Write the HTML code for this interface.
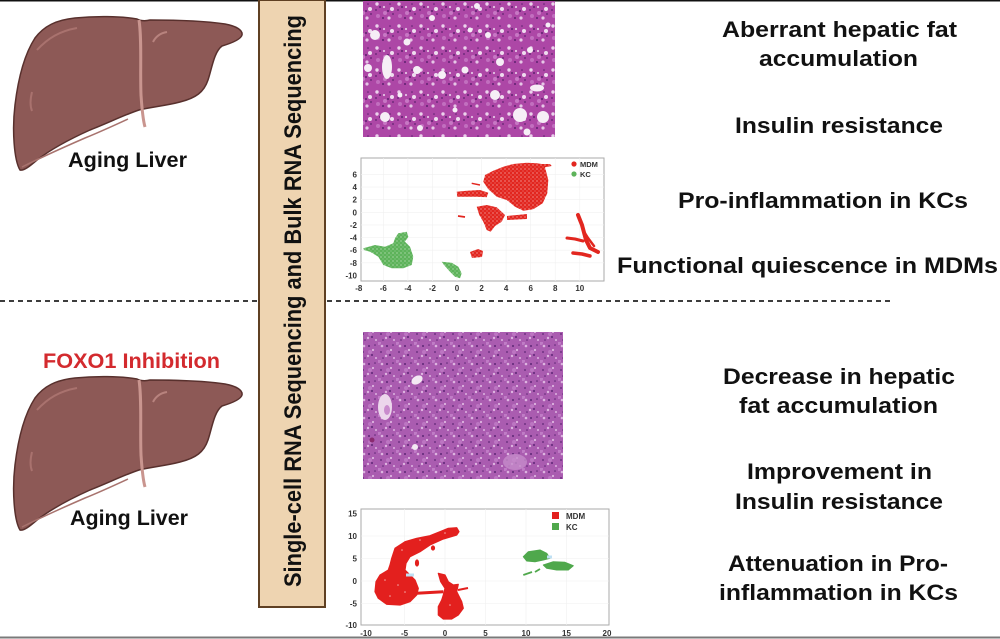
<!DOCTYPE html>
<html>
<head>
<meta charset="utf-8">
<style>
html,body{margin:0;padding:0;background:#fff;}
svg{display:block;}
text{font-family:"Liberation Sans",Arial,sans-serif;font-weight:bold;}
</style>
</head>
<body>
<svg width="1000" height="639" viewBox="0 0 1000 639" xmlns="http://www.w3.org/2000/svg">
<defs>
  <pattern id="histA" patternUnits="userSpaceOnUse" width="22" height="22">
    <rect width="22" height="22" fill="#ad47a6"/>
    <circle cx="11" cy="13" r="2" fill="#c778c4"/>
    <circle cx="4" cy="16" r="2" fill="#c26fbf"/>
    <circle cx="3" cy="4" r="1.7" fill="#ecd2ec"/>
    <circle cx="18" cy="9" r="2" fill="#efdcef"/>
    <circle cx="15" cy="18" r="1.6" fill="#e6c6e6"/>
    <circle cx="10" cy="7" r="1.1" fill="#e4c2e4"/>
    <circle cx="6" cy="7" r="1" fill="#5e2270"/>
    <circle cx="14" cy="11" r="1" fill="#5e2270"/>
    <circle cx="9" cy="18" r="1" fill="#5e2270"/>
    <circle cx="19" cy="14" r="0.9" fill="#5e2270"/>
    <circle cx="2" cy="10" r="0.9" fill="#5e2270"/>
    <circle cx="16" cy="4" r="0.8" fill="#5e2270"/>
  </pattern>
  <pattern id="histB" patternUnits="userSpaceOnUse" width="18" height="18">
    <rect width="18" height="18" fill="#aa5cb0"/>
    <circle cx="1" cy="1" r="2" fill="#c07cc6"/>
    <circle cx="10" cy="10" r="2" fill="#bc76c2"/>
    <circle cx="4" cy="4" r="1.3" fill="#ddb4e0"/>
    <circle cx="13" cy="8" r="1.1" fill="#ddb4e0"/>
    <circle cx="8" cy="14" r="1.2" fill="#ddb4e0"/>
    <circle cx="16" cy="16" r="1" fill="#ddb4e0"/>
    <circle cx="9" cy="4" r="1" fill="#5e2776"/>
    <circle cx="3" cy="10" r="0.9" fill="#5e2776"/>
    <circle cx="15" cy="3" r="0.8" fill="#5e2776"/>
    <circle cx="12" cy="13" r="1" fill="#5e2776"/>
    <circle cx="5" cy="16" r="0.8" fill="#5e2776"/>
  </pattern>
  <pattern id="rdots" patternUnits="userSpaceOnUse" width="4" height="4">
    <rect width="4" height="4" fill="#e2261f"/>
    <circle cx="1" cy="1" r="0.6" fill="#fff" opacity="0.75"/>
    <circle cx="3" cy="3" r="0.5" fill="#fff" opacity="0.6"/>
  </pattern>
  <pattern id="gdots" patternUnits="userSpaceOnUse" width="4" height="4">
    <rect width="4" height="4" fill="#5db35a"/>
    <circle cx="1" cy="1" r="0.6" fill="#fff" opacity="0.7"/>
    <circle cx="3" cy="3" r="0.5" fill="#fff" opacity="0.5"/>
  </pattern>
</defs>

<rect width="1000" height="639" fill="#fff"/>

<!-- borders -->
<line x1="0" y1="0.7" x2="1000" y2="0.7" stroke="#111" stroke-width="1.5"/>
<line x1="0" y1="637.5" x2="1000" y2="637.5" stroke="#7a7a7a" stroke-width="2"/>

<!-- dashed separators -->
<line x1="0" y1="301" x2="258" y2="301" stroke="#222" stroke-width="1.8" stroke-dasharray="5,4"/>
<line x1="327" y1="301" x2="890" y2="301" stroke="#222" stroke-width="1.8" stroke-dasharray="5,4"/>

<!-- banner -->
<rect x="259" y="0" width="66" height="607" fill="#eed4b1" stroke="#5f4023" stroke-width="2"/>
<text transform="translate(301,587) rotate(-90)" font-size="24" fill="#111" textLength="572" lengthAdjust="spacingAndGlyphs">Single-cell RNA Sequencing and Bulk RNA Sequencing</text>

<!-- livers -->
<g>
  <path d="M20,170 C14,160 12,130 15,105 C18,80 24,55 35,38 C44,26 56,20 75,18 C95,16 120,16 137,19 C141,21 146,21 150,20 C175,20 205,21 225,24 C236,26 243,30 242,35 C241,39 232,43 222,46 C214,52 212,68 208,80 C204,92 196,98 180,102 C165,106 150,107 139,110 C124,115 108,123 90,130 C70,139 50,150 37,160 C30,166 24,171 20,170 Z" fill="#8d5956" stroke="#58302d" stroke-width="1.5"/>
  <path d="M22,167 C40,158 62,148 85,138 C100,132 115,125 128,119" fill="none" stroke="#a8736e" stroke-width="1.5"/>
  <path d="M139,20 C142,40 140,70 141,95 C142,110 143,120 145,127" fill="none" stroke="#c9958f" stroke-width="3"/>
  <path d="M37,50 C48,38 60,31 77,28" fill="none" stroke="#a9726e" stroke-width="2"/>
  <path d="M32,92 C30,100 30,106 32,111" fill="none" stroke="#a9726e" stroke-width="2"/>
  <path d="M153,42 C156,36 161,33 167,32" fill="none" stroke="#b8837e" stroke-width="2"/>
</g>
<g transform="translate(0,360)">
  <path d="M20,170 C14,160 12,130 15,105 C18,80 24,55 35,38 C44,26 56,20 75,18 C95,16 120,16 137,19 C141,21 146,21 150,20 C175,20 205,21 225,24 C236,26 243,30 242,35 C241,39 232,43 222,46 C214,52 212,68 208,80 C204,92 196,98 180,102 C165,106 150,107 139,110 C124,115 108,123 90,130 C70,139 50,150 37,160 C30,166 24,171 20,170 Z" fill="#8d5956" stroke="#58302d" stroke-width="1.5"/>
  <path d="M22,167 C40,158 62,148 85,138 C100,132 115,125 128,119" fill="none" stroke="#a8736e" stroke-width="1.5"/>
  <path d="M139,20 C142,40 140,70 141,95 C142,110 143,120 145,127" fill="none" stroke="#c9958f" stroke-width="3"/>
  <path d="M37,50 C48,38 60,31 77,28" fill="none" stroke="#a9726e" stroke-width="2"/>
  <path d="M32,92 C30,100 30,106 32,111" fill="none" stroke="#a9726e" stroke-width="2"/>
  <path d="M153,42 C156,36 161,33 167,32" fill="none" stroke="#b8837e" stroke-width="2"/>
</g>

<!-- left labels -->
<text x="68" y="167" font-size="21" fill="#111" textLength="119" lengthAdjust="spacingAndGlyphs">Aging Liver</text>
<text x="43" y="368" font-size="21.5" fill="#d32a2e" textLength="177" lengthAdjust="spacingAndGlyphs">FOXO1 Inhibition</text>
<text x="70" y="525" font-size="21" fill="#111" textLength="118" lengthAdjust="spacingAndGlyphs">Aging Liver</text>

<!-- right text -->
<g font-size="22" fill="#111">
  <text x="722" y="37" textLength="235" lengthAdjust="spacingAndGlyphs">Aberrant hepatic fat</text>
  <text x="759" y="66" textLength="159" lengthAdjust="spacingAndGlyphs">accumulation</text>
  <text x="735" y="133" textLength="208" lengthAdjust="spacingAndGlyphs">Insulin resistance</text>
  <text x="678" y="208" textLength="290" lengthAdjust="spacingAndGlyphs">Pro-inflammation in KCs</text>
  <text x="617" y="273" textLength="381" lengthAdjust="spacingAndGlyphs">Functional quiescence  in MDMs</text>
  <text x="723" y="384" textLength="232" lengthAdjust="spacingAndGlyphs">Decrease in hepatic</text>
  <text x="739" y="413" textLength="199" lengthAdjust="spacingAndGlyphs">fat accumulation</text>
  <text x="747" y="479" textLength="185" lengthAdjust="spacingAndGlyphs">Improvement in</text>
  <text x="735" y="509" textLength="208" lengthAdjust="spacingAndGlyphs">Insulin resistance</text>
  <text x="728" y="571" textLength="220" lengthAdjust="spacingAndGlyphs">Attenuation in Pro-</text>
  <text x="719" y="600" textLength="239" lengthAdjust="spacingAndGlyphs">inflammation in KCs</text>
</g>

<!-- histology top -->
<rect x="363" y="1" width="192" height="136" fill="url(#histA)"/>
<g fill="#f6eef6">
  <circle cx="375" cy="35" r="5"/>
  <ellipse cx="387" cy="67" rx="5" ry="12"/>
  <circle cx="417" cy="70" r="4"/>
  <circle cx="465" cy="70" r="3.5"/>
  <circle cx="442" cy="75" r="4"/>
  <circle cx="495" cy="95" r="5"/>
  <circle cx="520" cy="115" r="7"/>
  <circle cx="543" cy="117" r="6"/>
  <ellipse cx="537" cy="88" rx="7" ry="3.5"/>
  <circle cx="385" cy="117" r="5"/>
  <circle cx="500" cy="62" r="4"/>
  <circle cx="488" cy="35" r="3"/>
  <circle cx="407" cy="42" r="3.5"/>
  <circle cx="432" cy="18" r="3"/>
  <circle cx="477" cy="6" r="3"/>
  <circle cx="368" cy="68" r="4"/>
  <circle cx="527" cy="132" r="3.5"/>
  <circle cx="455" cy="110" r="2.5"/>
  <circle cx="400" cy="95" r="2.5"/>
  <circle cx="470" cy="30" r="2.5"/>
  <circle cx="530" cy="50" r="3"/>
  <circle cx="548" cy="25" r="2.5"/>
  <circle cx="420" cy="128" r="3"/>
</g>

<!-- histology bottom -->
<rect x="363" y="332" width="200" height="147" fill="url(#histB)"/>
<ellipse cx="385" cy="407" rx="7" ry="13" fill="#ecd6ec"/>
<ellipse cx="387" cy="410" rx="3" ry="5" fill="#c98ccd"/>
<ellipse cx="417" cy="380" rx="6" ry="4" fill="#f3e8f3" transform="rotate(-30 417 380)"/>
<circle cx="415" cy="447" r="3" fill="#f3e8f3"/>
<ellipse cx="515" cy="462" rx="12" ry="8" fill="#c58ccb" opacity="0.8"/>
<circle cx="372" cy="440" r="2.5" fill="#8a2a70"/>

<!-- scatter top -->
<rect x="361" y="158" width="243" height="123" fill="#fff" stroke="#aaa" stroke-width="1"/>
<g stroke="#f0f0f0" stroke-width="0.6">
  <line x1="383.3" y1="158" x2="383.3" y2="281"/><line x1="407.9" y1="158" x2="407.9" y2="281"/>
  <line x1="432.4" y1="158" x2="432.4" y2="281"/><line x1="457" y1="158" x2="457" y2="281"/>
  <line x1="481.6" y1="158" x2="481.6" y2="281"/><line x1="506.1" y1="158" x2="506.1" y2="281"/>
  <line x1="530.7" y1="158" x2="530.7" y2="281"/><line x1="555.2" y1="158" x2="555.2" y2="281"/>
  <line x1="579.8" y1="158" x2="579.8" y2="281"/>
  <line x1="361" y1="174.4" x2="604" y2="174.4"/><line x1="361" y1="187.1" x2="604" y2="187.1"/>
  <line x1="361" y1="199.7" x2="604" y2="199.7"/><line x1="361" y1="212.3" x2="604" y2="212.3"/>
  <line x1="361" y1="224.9" x2="604" y2="224.9"/><line x1="361" y1="237.5" x2="604" y2="237.5"/>
  <line x1="361" y1="250.2" x2="604" y2="250.2"/><line x1="361" y1="262.8" x2="604" y2="262.8"/>
</g>
<g fill="url(#rdots)">
  <polygon points="485,175 493.3,170.7 503.3,166.7 513.3,164 526.7,162.7 536.7,163.3 541.7,164 550,164 551.7,166 545,167.3 548.3,180 547.3,193.3 542.7,203.3 533.3,209.3 523.3,210.7 515,206.7 506.7,200 496.7,196.7 488.3,189.3 483.3,181.7"/>
  <polygon points="456.7,191.7 466.7,190.7 480,190 488.3,192.7 486.7,197.3 476.7,196.7 466.7,196.7 457.3,196.7"/>
  <polygon points="476.7,206.7 486.7,205 496.7,207.3 505,215 501.7,221.7 495,226 490.7,231.7 486.7,230 483.3,221.7 479.3,215"/>
  <polygon points="507,216 527,214 527,219 507,220"/>
  <polygon points="470,252 478,249 483,251 482,257 472,258"/>
</g>
<line x1="471.7" y1="183.3" x2="480" y2="185" stroke="#e2261f" stroke-width="1.5"/>
<line x1="458" y1="216" x2="465" y2="217" stroke="#e2261f" stroke-width="1.8"/>
<g fill="none" stroke="#e2261f" stroke-linecap="round" stroke-linejoin="round">
  <polyline points="578,215 582,225 586,240 590,248 598,252" stroke-width="4"/>
  <polyline points="567,238 575,239 583,241" stroke-width="3"/>
  <polyline points="573,253 582,254 590,256" stroke-width="3.5"/>
  <polyline points="583,230 588,238 594,246" stroke-width="2.5"/>
</g>
<g fill="url(#gdots)">
  <polygon points="363.3,248.3 375,245 385,246.7 393.3,243.3 395,238.3 398.3,233.3 406.7,231.7 408.3,236.7 405,241.7 410,246.7 413.3,256.7 411.7,265 403.3,268.3 391.7,268.3 383.3,265 378.3,256.7 370,251.7 364,250"/>
  <polygon points="441.7,261.7 451.7,262.7 458.3,266.7 461.7,273.3 460,278.3 455,276.7 450,271.7 444,265"/>
</g>
<circle cx="574" cy="164" r="2.6" fill="#e2261f"/>
<circle cx="574" cy="174" r="2.6" fill="#5db35a"/>
<g font-size="7.5" fill="#333">
  <text x="580" y="167">MDM</text>
  <text x="580" y="177">KC</text>
</g>
<g font-size="8" fill="#333" text-anchor="end">
  <text x="357" y="177.4">6</text><text x="357" y="190.1">4</text><text x="357" y="202.7">2</text>
  <text x="357" y="215.3">0</text><text x="357" y="227.9">-2</text><text x="357" y="240.5">-4</text>
  <text x="357" y="253.2">-6</text><text x="357" y="265.8">-8</text><text x="357" y="278.4">-10</text>
</g>
<g font-size="8" fill="#333" text-anchor="middle">
  <text x="358.8" y="291">-8</text><text x="383.3" y="291">-6</text><text x="407.9" y="291">-4</text>
  <text x="432.4" y="291">-2</text><text x="457" y="291">0</text><text x="481.6" y="291">2</text>
  <text x="506.1" y="291">4</text><text x="530.7" y="291">6</text><text x="555.2" y="291">8</text>
  <text x="579.8" y="291">10</text>
</g>

<!-- scatter bottom -->
<rect x="361" y="509" width="248" height="116" fill="#fff" stroke="#aaa" stroke-width="1"/>
<g stroke="#f0f0f0" stroke-width="0.6">
  <line x1="404.5" y1="509" x2="404.5" y2="625"/><line x1="445" y1="509" x2="445" y2="625"/>
  <line x1="485.5" y1="509" x2="485.5" y2="625"/><line x1="526" y1="509" x2="526" y2="625"/>
  <line x1="566.5" y1="509" x2="566.5" y2="625"/>
  <line x1="361" y1="536" x2="609" y2="536"/><line x1="361" y1="558.5" x2="609" y2="558.5"/>
  <line x1="361" y1="581" x2="609" y2="581"/><line x1="361" y1="603.5" x2="609" y2="603.5"/>
</g>
<g fill="#e3201e" stroke="#e3201e" stroke-width="1.2" stroke-linejoin="round">
  <polygon points="391.7,558.3 395,548.3 405,541.7 416.7,538.3 430,535.7 440,531.7 448.3,528.3 456.7,527.7 459,531.7 456.7,535 443.3,539 430,545 420,551.7 410,556.7 406,563.3 405,570 408.3,573.3 415,580 418.3,588.3 416.7,595 410,601.7 400,605 386.7,604.3 378.3,598.3 375,591.7 376,581.7 380,575 388.3,570 390,565"/>
  <polygon points="438.3,573.3 445,575 448.3,581.7 453.3,585 458.3,584.3 456.7,591.7 461.7,601.7 463.3,608.3 458.3,615 451.7,619 443.3,619 438.3,615 438.3,606.7 441.7,600 443.3,595 445,588.3 440.7,581.7"/>
  <ellipse cx="417" cy="563" rx="1.5" ry="3"/>
  <ellipse cx="433" cy="548" rx="1.5" ry="2"/>
</g>
<line x1="416.7" y1="593.3" x2="443.3" y2="591.7" stroke="#e3201e" stroke-width="3"/>
<line x1="458" y1="590" x2="468" y2="588" stroke="#e3201e" stroke-width="2"/>
<g fill="#fff" opacity="0.6">
  <circle cx="398" cy="585" r="0.8"/><circle cx="405" cy="592" r="0.8"/><circle cx="390" cy="596" r="0.8"/>
  <circle cx="420" cy="540" r="0.8"/><circle cx="445" cy="533" r="0.8"/><circle cx="450" cy="605" r="0.8"/>
  <circle cx="402" cy="550" r="0.8"/><circle cx="385" cy="580" r="0.8"/>
</g>
<g fill="#4fa84c" stroke="#4fa84c" stroke-width="1" stroke-linejoin="round">
  <polygon points="523.3,556.7 528.3,551.7 540,550 546.7,553.3 550,558.3 543.3,560 535,561.7 526.7,561"/>
  <polygon points="543.3,565 553.3,561.7 565,562.3 573.3,565.7 568.3,570 556.7,570 546.7,568.3"/>
</g>
<line x1="523.3" y1="575" x2="532" y2="572" stroke="#4fa84c" stroke-width="1.8"/>
<line x1="535" y1="572" x2="540" y2="569" stroke="#4fa84c" stroke-width="1.8"/>
<rect x="406" y="573.5" width="8" height="3" fill="#bfe0f4"/>
<rect x="547" y="555.5" width="5" height="3" fill="#bfe0f4"/>
<rect x="552" y="512" width="7" height="7" fill="#e3201e"/>
<rect x="552" y="523" width="7" height="7" fill="#4fa84c"/>
<g font-size="8" fill="#333">
  <text x="566" y="519">MDM</text>
  <text x="566" y="530">KC</text>
</g>
<g font-size="8" fill="#333" text-anchor="end">
  <text x="357" y="516.5">15</text><text x="357" y="539">10</text><text x="357" y="561.5">5</text>
  <text x="357" y="584">0</text><text x="357" y="606.5">-5</text><text x="357" y="628">-10</text>
</g>
<g font-size="8" fill="#333" text-anchor="middle">
  <text x="366" y="636">-10</text><text x="404.5" y="636">-5</text><text x="445" y="636">0</text>
  <text x="485.5" y="636">5</text><text x="526" y="636">10</text><text x="566.5" y="636">15</text>
  <text x="607" y="636">20</text>
</g>
</svg>
</body>
</html>
